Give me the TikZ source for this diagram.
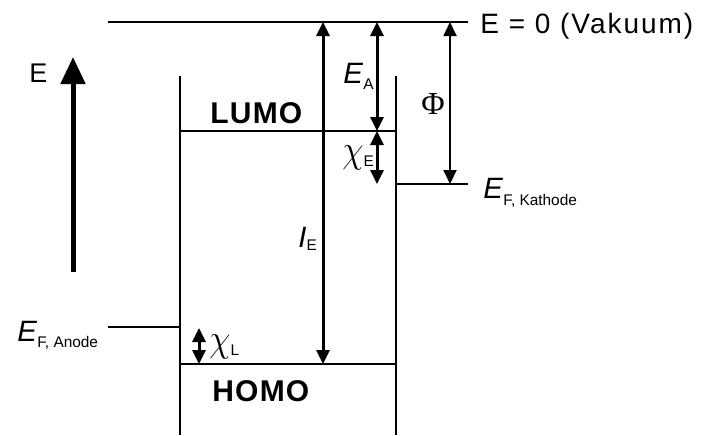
\documentclass[tikz,border=0pt]{standalone}
\usepackage{fontspec}
\setmainfont{Liberation Sans}
\newfontfamily\greekfont{Liberation Serif}
\usetikzlibrary{arrows.meta}
\newcommand{\fsz}[1]{\fontsize{#1}{#1}\selectfont}
\newcommand{\lowsub}[2]{\raisebox{-#1}{\fsz{7.7}#2}}
\newcommand{\tallchi}{\raisebox{2pt}{\scalebox{1}[1.12]{\fsz{17}$\chi$}}}

\begin{document}
\begin{tikzpicture}[x=0.5pt, y=-0.5pt,
    level/.style={line width=1pt},
    gap/.style={line width=1.5pt, {Triangle[length=7pt,width=6.5pt]}-{Triangle[length=7pt,width=6.5pt]}},
    thingap/.style={gap, line width=0.9pt},
    axisarrow/.style={line width=2.5pt, -{Triangle[length=13.5pt,width=12pt]}},
    orbital/.style={font=\fsz{15}\bfseries, anchor=base west, inner sep=0pt},
    sym/.style={font=\fsz{14.7}, anchor=base west, inner sep=0pt}]
  \useasboundingbox (0,0) rectangle (705,435);
  % level end points (pixel grid of the sketch)
  \coordinate (vacL) at (108,22);   \coordinate (vacR) at (468,22);
  \coordinate (boxTL) at (180,76);  \coordinate (boxBL) at (180,435);
  \coordinate (boxTR) at (396,76);  \coordinate (boxBR) at (396,435);
  \coordinate (lumoL) at (180,131); \coordinate (lumoR) at (396,131);
  \coordinate (homoL) at (180,364); \coordinate (homoR) at (396,364);
  \coordinate (kathL) at (396,184); \coordinate (kathR) at (468,184);
  \coordinate (anodeL) at (108,327); \coordinate (anodeR) at (180,327);
  \foreach \a/\b in {vacL/vacR, boxTL/boxBL, boxTR/boxBR, lumoL/lumoR,
                     homoL/homoR, kathL/kathR, anodeL/anodeR}
    \draw[level] (\a) -- (\b);
  % energy axis
  \coordinate (axisB) at (73,272); \coordinate (axisT) at (73,57);
  \draw[axisarrow] (axisB) -- (axisT);
  % gaps
  \coordinate (ieT) at (323,22);  \coordinate (ieB) at (323,364);
  \coordinate (eaT) at (377,22);  \coordinate (eaB) at (377,131);
  \coordinate (chiET) at (377,131); \coordinate (chiEB) at (377,184);
  \coordinate (phiT) at (450,22); \coordinate (phiB) at (450,184);
  \coordinate (chiLT) at (199,328); \coordinate (chiLB) at (199,364);
  \draw[gap] (ieB) -- (ieT);
  \draw[gap] (eaT) -- (eaB);
  \draw[gap] (chiET) -- (chiEB);
  \draw[thingap] (phiT) -- (phiB);
  \draw[gap] (chiLT) -- (chiLB);
  % labels
  \node[sym, font=\fsz{14}] (vacuum) at (480,33) {\addfontfeature{LetterSpace=7}E = 0 (Vakuum)};
  \node[sym, font=\fsz{13.5}] (energy) at (29,82) {E};
  \node[orbital] (lumo) at (210,123) {\addfontfeature{LetterSpace=4}LUMO};
  \node[orbital] (homo) at (212,401) {\addfontfeature{LetterSpace=4}HOMO};
  \node[sym] (efk) at (483,198) {\textit{E}\lowsub{3.5pt}{F, Kathode}};
  \node[sym] (efa) at (17,341) {\textit{E}\lowsub{3pt}{F, Anode}};
  \node[sym] (ea) at (343,83) {\textit{E}\lowsub{3pt}{A}};
  \node[sym] (ie) at (298,247) {\textit{I}\lowsub{1.5pt}{E}};
  \node[sym] (chie) at (342,166) {\tallchi\lowsub{0pt}{E}};
  \node[sym] (chil) at (209,355) {\tallchi\lowsub{0pt}{L}};
  \node[font=\greekfont\fsz{16}, inner sep=0pt] (phi) at (433,104) {Φ};
\end{tikzpicture}
\end{document}
